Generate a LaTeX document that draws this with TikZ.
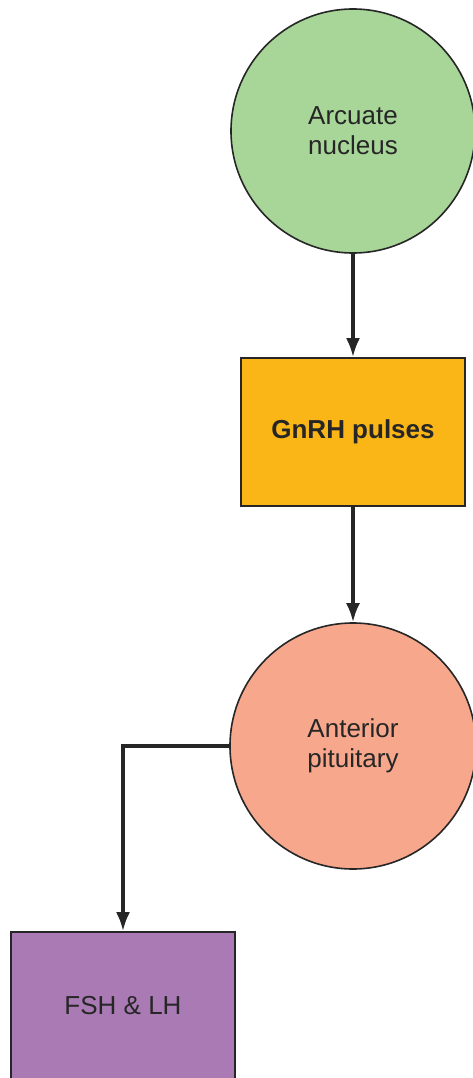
\documentclass[tikz,border=0pt]{standalone}
\usepackage{fontspec}
\setmainfont{Liberation Sans}
\usetikzlibrary{arrows.meta,positioning}

\definecolor{gruen}{RGB}{168,213,152}
\definecolor{orange}{RGB}{250,182,22}
\definecolor{lachs}{RGB}{247,168,140}
\definecolor{lila}{RGB}{170,122,180}

\begin{document}
\begin{tikzpicture}[x=1pt, y=-1pt,
			>={Latex[length=19pt,width=14pt]},   %Pfeilspitzen
			kreis/.style={circle, draw=black!85, line width=1.6pt, minimum size=#1, inner sep=0pt, align=center},
			kasten/.style={rectangle, draw=black!85, line width=1.8pt, minimum width=224pt, minimum height=148pt, align=center},
			pfeil/.style={->, line width=3.2pt, draw=black!85},
			font=\fontsize{26}{30}\selectfont, text=black!85]
			%Bildbereich
			\useasboundingbox (0,0) rectangle (473,1078);
			% Knoten
			\node[kreis=244pt, fill=gruen] (arcuate) at (353,131) {Arcuate\\nucleus};
			\node[kasten, fill=orange, font=\fontsize{26}{30}\selectfont\bfseries] (gnrh) at (353,432) {GnRH pulses};
			\node[kreis=246pt, fill=lachs] (pituitary) at (353,746) {Anterior\\pituitary};
			\node[kasten, fill=lila] (fshlh) at (123,1006) {FSH \& LH};
			% Pfeile
			\draw[pfeil] (arcuate) -- (gnrh);
			\draw[pfeil] (gnrh) -- (pituitary);
			\draw[pfeil] (pituitary.west) -| (fshlh.north);
		\end{tikzpicture}
\end{document}
